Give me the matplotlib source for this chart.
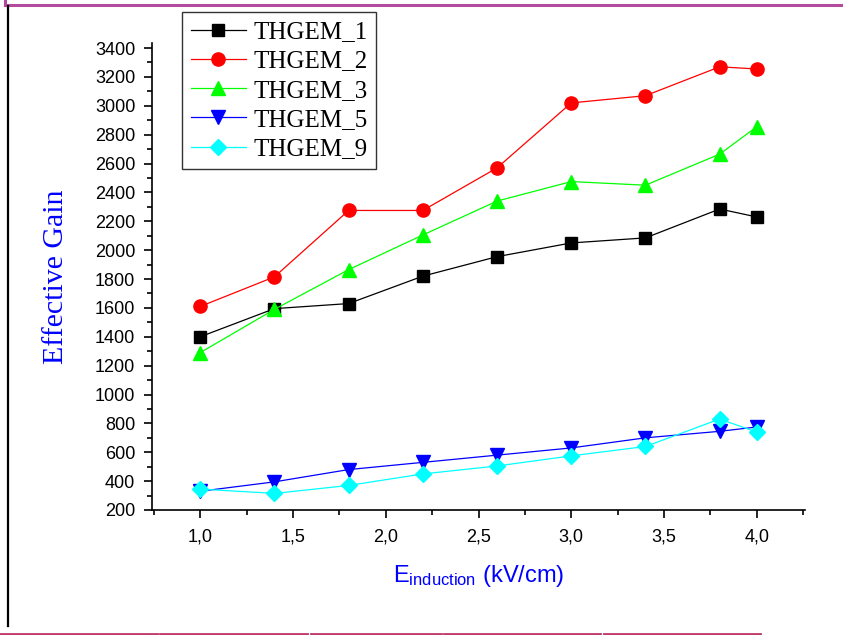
import matplotlib
matplotlib.use('Agg')
import matplotlib.pyplot as plt
from matplotlib.lines import Line2D
from matplotlib.ticker import MultipleLocator, FuncFormatter

# induction field values (kV/cm)
e_ind = [1.0, 1.4, 1.8, 2.2, 2.6, 3.0, 3.4, 3.8, 4.0]

# effective gain per THGEM
thgem_1 = [1400, 1595, 1630, 1820, 1955, 2050, 2085, 2285, 2230]
thgem_2 = [1610, 1815, 2275, 2275, 2570, 3020, 3070, 3270, 3255]
thgem_3 = [1290, 1590, 1865, 2105, 2340, 2475, 2450, 2665, 2855]
thgem_5 = [330, 395, 480, 530, 580, 630, 700, 745, 775]
thgem_9 = [345, 315, 370, 450, 505, 575, 640, 830, 740]

labels = ['THGEM_1', 'THGEM_2', 'THGEM_3', 'THGEM_5', 'THGEM_9']

fig = plt.figure(figsize=(8.43, 6.35), dpi=100)
ax = fig.add_axes([152/843, 1-510/635, (805-152)/843, (510-43)/635])

ax.plot(e_ind, thgem_1, '-s', color='black', lw=0.9, ms=8, label=labels[0])
ax.plot(e_ind, thgem_2, '-o', color='red', lw=0.9, ms=9.5, label=labels[1])
ax.plot(e_ind, thgem_3, '-^', color='#00ff00', lw=0.9, ms=10, label=labels[2])
ax.plot(e_ind, thgem_5, '-v', color='blue', lw=0.9, ms=10, label=labels[3])
ax.plot(e_ind, thgem_9, '-D', color='cyan', lw=0.9, ms=8.5, label=labels[4])

ax.set_xlim(0.74, 4.26)
ax.set_ylim(200, 3435)

ax.spines['top'].set_visible(False)
ax.spines['right'].set_visible(False)
ax.spines['left'].set_linewidth(1.2)
ax.spines['bottom'].set_linewidth(1.2)

ax.xaxis.set_major_locator(MultipleLocator(0.5))
ax.xaxis.set_minor_locator(MultipleLocator(0.25))
ax.yaxis.set_major_locator(MultipleLocator(200))
ax.yaxis.set_minor_locator(MultipleLocator(100))
ax.xaxis.set_major_formatter(FuncFormatter(lambda v, p: ('%.1f' % v).replace('.', ',')))
ax.tick_params(which='major', direction='out', length=6, width=1.2, labelsize=13)
ax.tick_params(which='minor', direction='out', length=3.5, width=1.2)
ax.tick_params(axis='x', which='major', pad=7)
ax.tick_params(axis='y', which='major', pad=6)
for lab in ax.get_xticklabels() + ax.get_yticklabels():
    lab.set_fontfamily('Liberation Sans')

ax.set_ylabel('Effective Gain', color='blue', fontsize=21.5, family='Liberation Serif', labelpad=19)
ax.set_xlabel(r'$\mathregular{E_{induction}}$ (kV/cm)', color='blue', fontsize=17,
              family='Liberation Sans', labelpad=13)

leg = ax.legend(loc='upper left', bbox_to_anchor=(182/843, 1-12/635), bbox_transform=fig.transFigure,
                prop={'family': 'Liberation Serif', 'size': 18}, frameon=True, fancybox=False,
                edgecolor='black', handlelength=2.2, labelspacing=0.27, borderpad=0.35,
                handletextpad=0.3, borderaxespad=0)
leg.get_frame().set_linewidth(1.0)

# page decorations around the figure
fig.add_artist(Line2D([5/843, 1], [1-5/635, 1-5/635], color='#b24a9e', lw=2.2, transform=fig.transFigure))
fig.add_artist(Line2D([5/843, 5/843], [1, 1-5/635], color='#b24a9e', lw=2.2, transform=fig.transFigure))
fig.add_artist(Line2D([8/843, 8/843], [1-6/635, 1-626/635], color='black', lw=1.6, transform=fig.transFigure))
for x0, x1 in [(0, 157), (160, 307), (311, 441), (444, 600), (604, 760)]:
    fig.add_artist(Line2D([x0/843, x1/843], [1-634/635, 1-634/635], color='#c0396a', lw=2,
                          transform=fig.transFigure))

plt.savefig('out.png', dpi=100)
